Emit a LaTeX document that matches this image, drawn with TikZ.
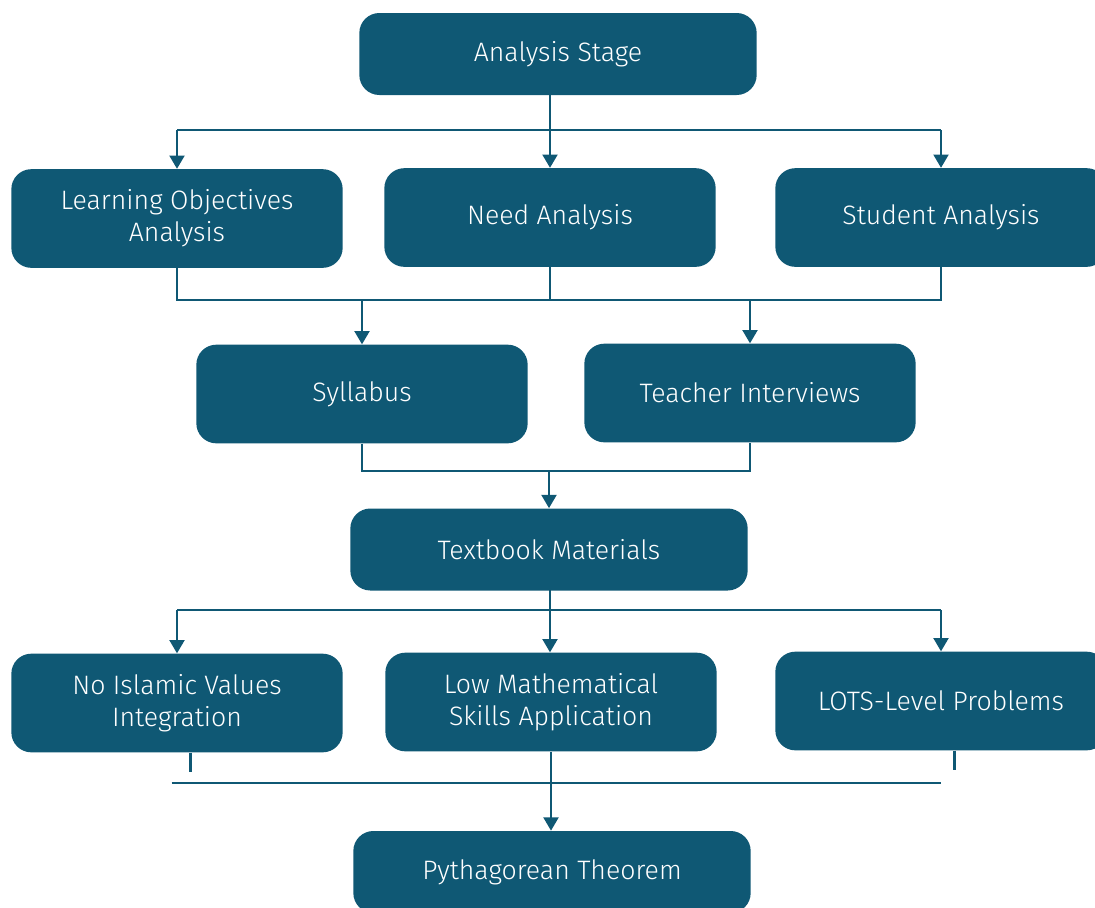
\documentclass[tikz,border=0pt]{standalone}
\usepackage{fontspec}
\setmainfont{Fira Sans}[UprightFont=* Light]
\usetikzlibrary{arrows.meta}
\definecolor{teal}{HTML}{0F5874}
\begin{document}
\begin{tikzpicture}[x=0.75pt,y=-0.75pt,font=\fontsize{20}{24}\selectfont]
  \tikzset{
    stage/.style={fill=teal,text=white,rounded corners=15pt,
      minimum width=298pt,minimum height=61.5pt,align=center},
    item/.style={fill=teal,text=white,rounded corners=15pt,
      minimum width=248.5pt,minimum height=74pt,align=center},
    link/.style={draw=teal,line width=2.2pt},
    flow/.style={link,-{Triangle[width=11pt,length=10pt]}}
  }
  \useasboundingbox (0,0) rectangle (1095,907);

  \node[stage] (stage) at (558,54) {Analysis Stage};
  \node[item] (objectives) at (177,218.5) {Learning Objectives\\Analysis};
  \node[item] (need) at (550,217.5) {Need Analysis};
  \node[item] (student) at (941,217.5) {Student Analysis};

  \node[item] (syllabus) at (362,394) {Syllabus};
  \node[item] (teacher) at (750,393) {Teacher Interviews};

  \node[stage] (textbook) at (549,549.5) {Textbook Materials};

  \node[item] (islamic) at (177,703) {No Islamic Values\\Integration};
  \node[item] (skills) at (551,702) {Low Mathematical\\Skills Application};
  \node[item] (lots) at (941,701) {LOTS-Level Problems};

  \node[stage] (pythagoras) at (552,872) {Pythagorean Theorem};

  % analysis stage to the three analyses
  \coordinate (bus1) at (550,130);
  \draw[link] (550,95) -- (bus1);
  \draw[link] (bus1 -| objectives.north) -- (bus1 -| student.north);
  \draw[flow] (bus1 -| objectives.north) -- (objectives.north);
  \draw[flow] (bus1) -- (bus1 |- need.north);
  \draw[flow] (bus1 -| student.north) -- (student.north);

  % analyses to syllabus and interviews
  \coordinate (bus2) at (550,300);
  \draw[link] (objectives.south) -- (objectives.south |- bus2)
    -- (student.south |- bus2) -- (student.south);
  \draw[link] (need.south) -- (need.south |- bus2);
  \draw[flow] (bus2 -| syllabus.north) -- (syllabus.north);
  \draw[flow] (bus2 -| teacher.north) -- (teacher.north);

  % syllabus and interviews to textbook
  \coordinate (bus3) at (549,471);
  \draw[link] (syllabus.south) -- (syllabus.south |- bus3)
    -- (teacher.south |- bus3) -- (teacher.south);
  \draw[flow] (bus3) -- (textbook.north);

  % textbook to the three findings
  \coordinate (bus4) at (550,610);
  \draw[link] (550,590) -- (bus4);
  \draw[link] (bus4 -| islamic.north) -- (bus4 -| lots.north);
  \draw[flow] (bus4 -| islamic.north) -- (islamic.north);
  \draw[flow] (bus4) -- (bus4 |- skills.north);
  \draw[flow] (bus4 -| lots.north) -- (lots.north);

  % findings to pythagorean theorem
  \coordinate (bus5) at (551,783);
  \draw[link] ([xshift=10pt]islamic.south) -- ++(0,19);
  \draw[link] ([xshift=10pt]lots.south) -- ++(0,19);
  \draw[link] ([xshift=-4pt]bus5 -| islamic.south) -- (bus5 -| lots.south);
  \draw[flow] (skills.south) -- (skills.south |- pythagoras.north);
\end{tikzpicture}
\end{document}
